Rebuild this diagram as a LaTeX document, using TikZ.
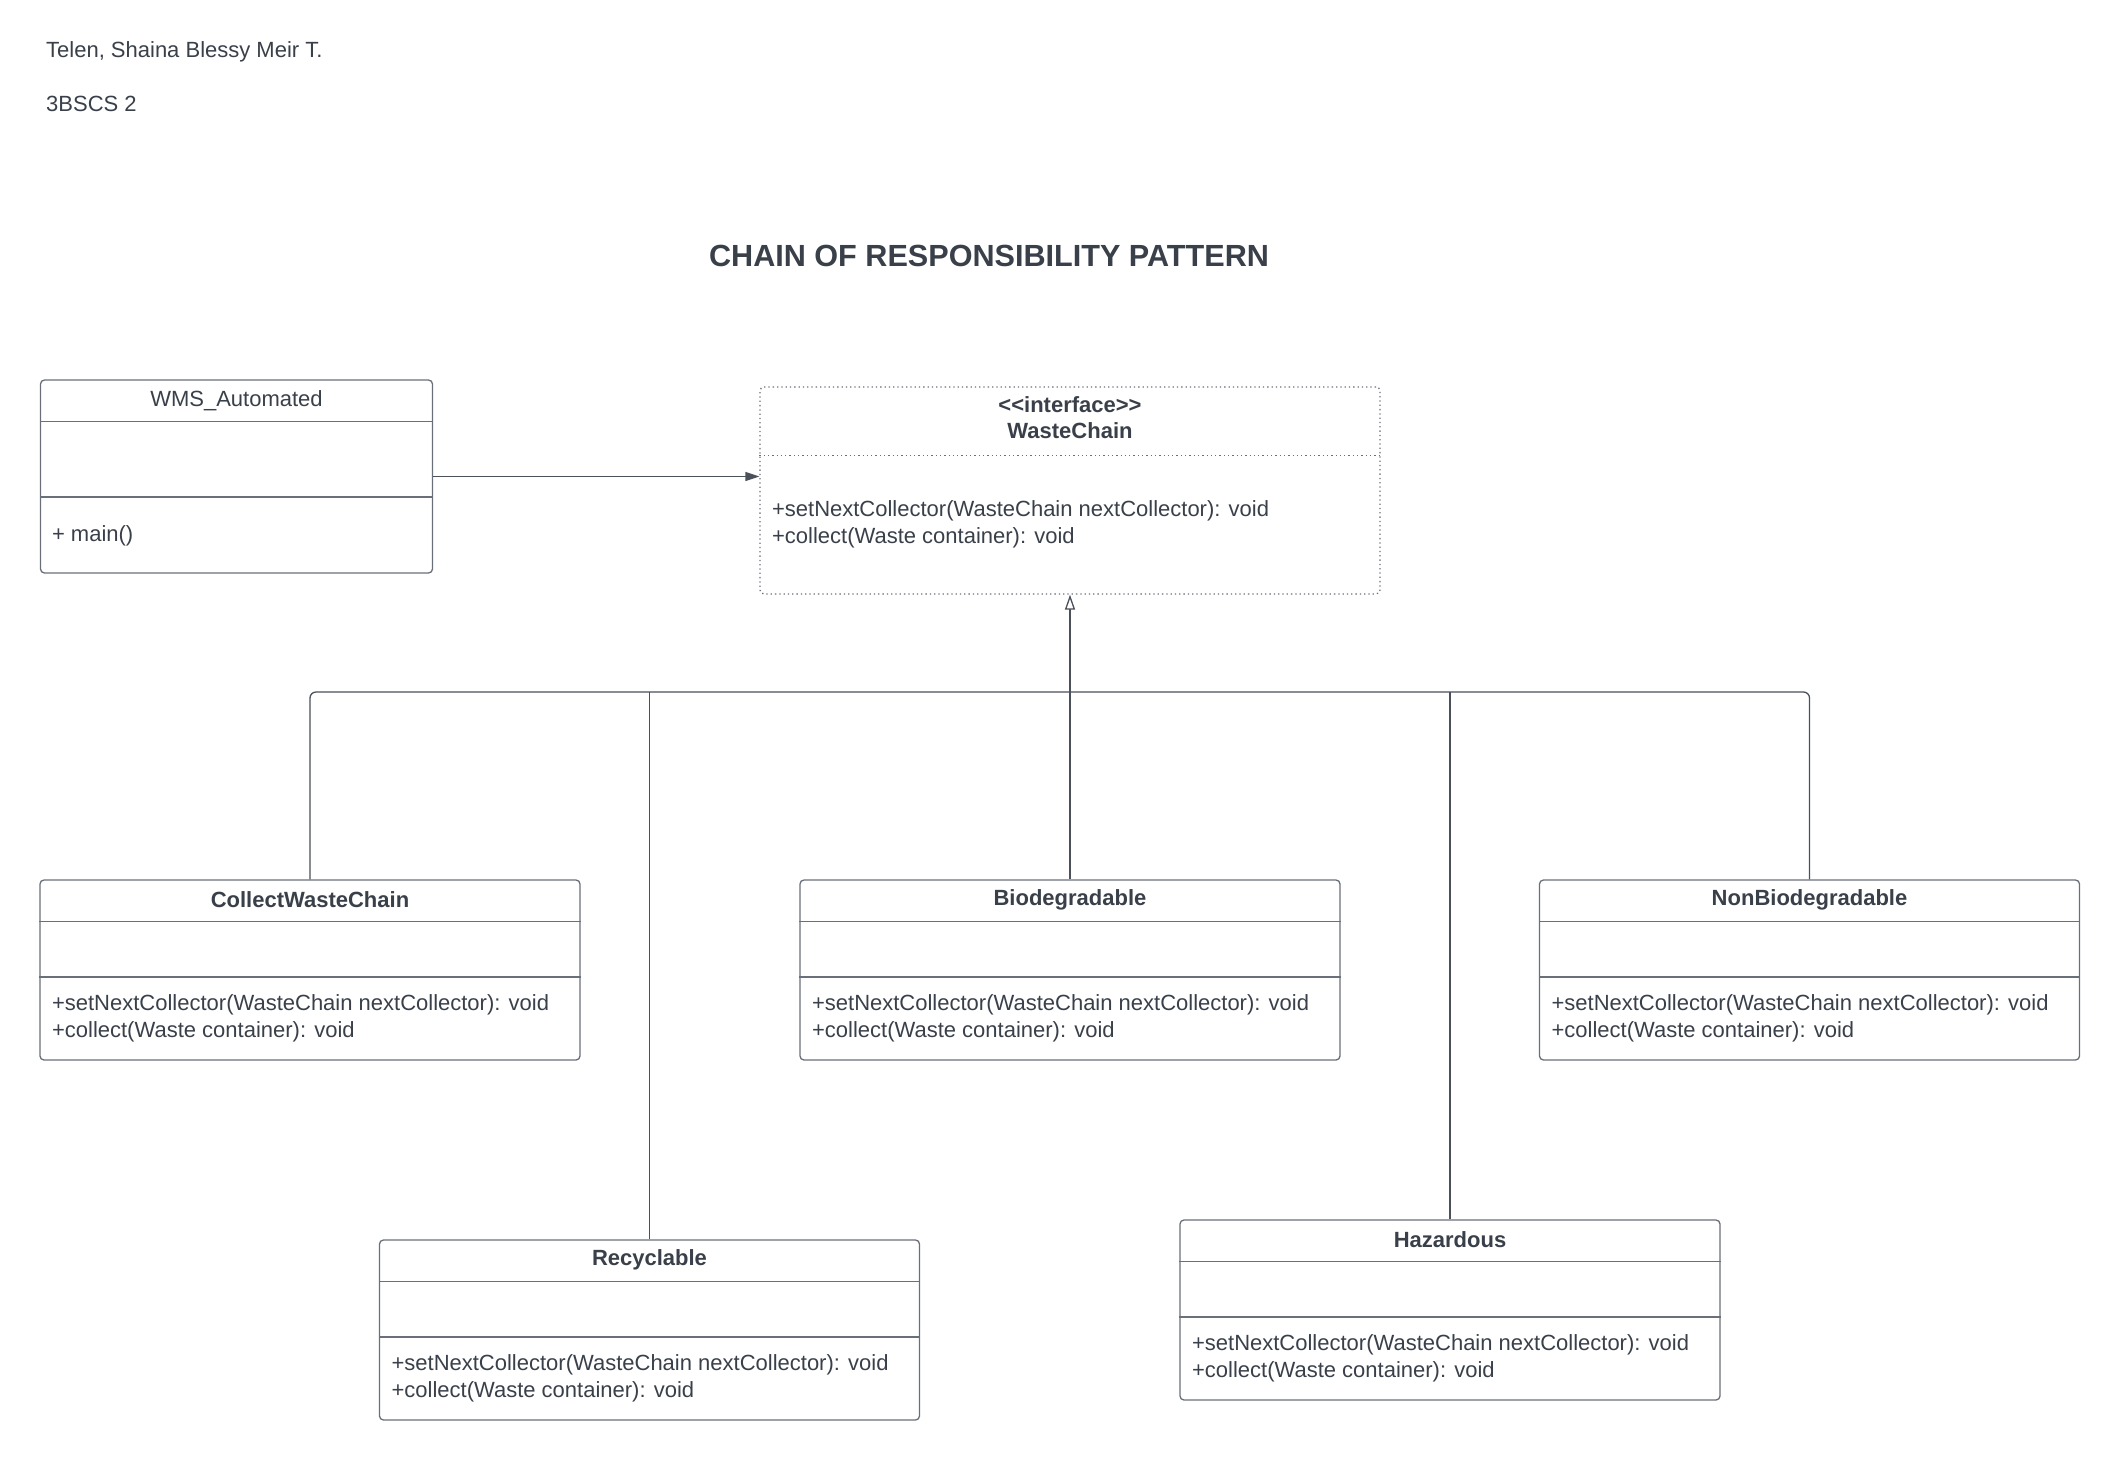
\documentclass[tikz,border=0pt]{standalone}
\usepackage{fontspec}
\setmainfont{Liberation Sans}
\usetikzlibrary{calc,arrows.meta}
\definecolor{txt}{HTML}{3A404A}
\definecolor{brd}{HTML}{6A7079}
\definecolor{lnc}{HTML}{4B515A}
\newcommand\umlbox[3]{%
  \node[cbox] (#1) at (#2) {};
  \draw[sepl] ($(#1.north west)+(0,42)$) -- ($(#1.north east)+(0,42)$);
  \draw[sepl] ($(#1.north west)+(0,97.5)$) -- ($(#1.north east)+(0,97.5)$);
  \node[ctitle] (#1-t) at ($(#1.north)+(0,20)$) {#3};
  \node[cmeth] (#1-m) at ($(#1.north west)+(12.5,138.5)$) {+setNextCollector(WasteChain nextCollector): void\\+collect(Waste container): void};
}
\begin{document}
\begin{tikzpicture}[x=1pt,y=-1pt,
  every node/.style={text=txt,font=\fontsize{22}{27}\selectfont,inner sep=0pt},
  cbox/.style={draw=brd,line width=1.3pt,rounded corners=4pt,minimum width=540pt,minimum height=180pt,fill=white},
  sepl/.style={draw=brd,line width=1.3pt},
  ctitle/.style={font=\fontsize{22}{27}\selectfont\bfseries},
  cmeth/.style={anchor=west,align=left},
  conn/.style={draw=lnc,line width=1.3pt}]
\useasboundingbox[fill=white] (0,0) rectangle (2120,1460);

\node[anchor=west] (author) at (46,51.5) {Telen, Shaina Blessy Meir T.};
\node[anchor=west] (section) at (46,104) {3BSCS 2};
\node[font=\fontsize{30.6}{36}\selectfont\bfseries] (title) at (989,256) {CHAIN OF RESPONSIBILITY PATTERN};

% WMS_Automated
\node[draw=brd,line width=1.3pt,rounded corners=4pt,minimum width=392pt,minimum height=193pt] (wms) at (236.5,476.5) {};
\draw[sepl] ($(wms.north west)+(0,42)$) -- ($(wms.north east)+(0,42)$);
\draw[sepl] ($(wms.north west)+(0,117.5)$) -- ($(wms.north east)+(0,117.5)$);
\node (wms-t) at ($(wms.north)+(0,21)$) {WMS\_Automated};
\node[anchor=west] (wms-m) at ($(wms.north west)+(12,156)$) {+ main()};

% WasteChain interface
\node[draw=brd,line width=1.3pt,dash pattern=on 1.3pt off 3pt,rounded corners=4pt,minimum width=620pt,minimum height=207pt] (iface) at (1070,490.5) {};
\draw[draw=brd,line width=1.3pt,dash pattern=on 1.3pt off 3pt] ($(iface.north west)+(0,69)$) -- ($(iface.north east)+(0,69)$);
\node[ctitle] (iface-s) at ($(iface.north)+(0,18.5)$) {<\kern0pt<interface>\kern0pt>};
\node[ctitle] (iface-t) at ($(iface.north)+(0,44)$) {WasteChain};
\node[cmeth] (iface-m) at ($(iface.north west)+(12.5,137.5)$) {+setNextCollector(WasteChain nextCollector): void\\+collect(Waste container): void};

% concrete classes
\umlbox{cw}{310,970}{CollectWasteChain}
\umlbox{bio}{1070,970}{Biodegradable}
\umlbox{nb}{1809.5,970}{NonBiodegradable}
\umlbox{rc}{649.5,1330}{Recyclable}
\umlbox{hz}{1450,1310}{Hazardous}

% connectors
\coordinate (hub) at (1070,692);
\draw[conn,-{Triangle[length=14pt,width=9pt]}] (wms.east) -- (wms.east -| iface.west);
\draw[conn,rounded corners=6pt] (cw.north) |- (hub);
\draw[conn,rounded corners=6pt] (nb.north) |- (hub);
\draw[conn] (rc.north) -- (rc.north |- hub);
\draw[conn] (hz.north) -- (hz.north |- hub);
\draw[conn,-{Triangle[open,length=15pt,width=10pt,fill=white]}] (bio.north) -- (iface.south);
\end{tikzpicture}
\end{document}
